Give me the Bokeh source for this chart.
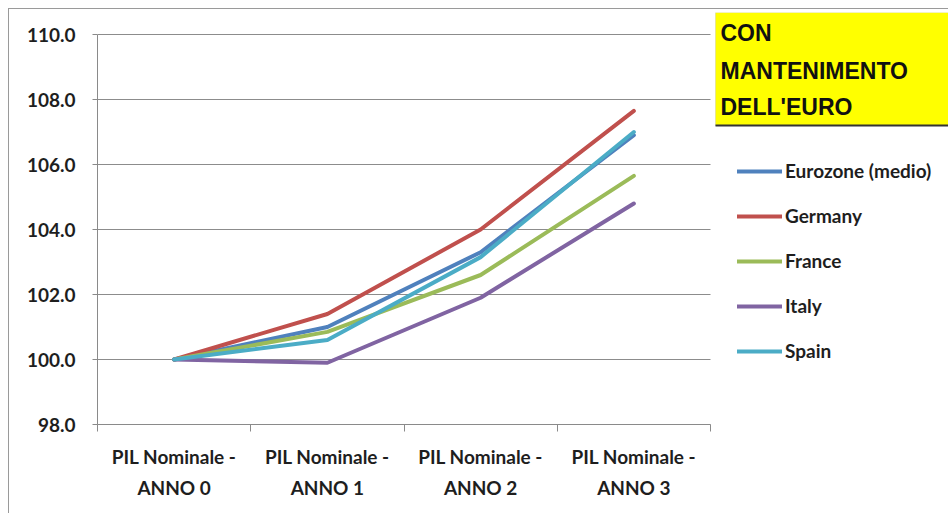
from bokeh.plotting import figure
from bokeh.models import (Range1d, FixedTicker, Legend, LegendItem, Label, BoxAnnotation)
from bokeh.embed import file_html
from bokeh.resources import INLINE

categories = ["ANNO 0", "ANNO 1", "ANNO 2", "ANNO 3"]
tick_labels = ["PIL Nominale -\nANNO 0", "PIL Nominale -\nANNO 1",
               "PIL Nominale -\nANNO 2", "PIL Nominale -\nANNO 3"]
series_names = ["Eurozone (medio)", "Germany", "France", "Italy", "Spain"]
eurozone = [100.0, 101.0, 103.3, 106.9]
germany = [100.0, 101.4, 104.0, 107.65]
france = [100.0, 100.85, 102.6, 105.65]
italy = [100.0, 99.9, 101.9, 104.8]
spain = [100.0, 100.6, 103.15, 107.0]
series_values = [eurozone, germany, france, italy, spain]
colors = ["#4F81BD", "#C0504D", "#9BBB59", "#8064A2", "#4BACC6"]
y_min, y_max = 98, 110
y_ticks = [98, 100, 102, 104, 106, 108, 110]
title_lines = ["CON", "MANTENIMENTO", "DELL'EURO"]

n = len(categories)
xs = [i + 0.5 for i in range(n)]

# layout geometry (pixels)
plot_left, plot_right, plot_top, plot_bottom = 97, 710, 34, 424
frame_right, frame_top = 949, 12
x_end = n * (frame_right - plot_left) / (plot_right - plot_left)
y_end = y_min + (y_max - y_min) * (plot_bottom - frame_top) / (plot_bottom - plot_top)

p = figure(width=940, height=505, output_backend="svg", toolbar_location=None,
           x_range=Range1d(0, x_end), y_range=Range1d(y_min, y_end),
           min_border_left=88, min_border_right=0, min_border_top=3,
           min_border_bottom=90)
p.margin = (8, 0, 0, 8)
p.styles = {"border-top": "1px solid #9a9a9a", "border-left": "1px solid #9a9a9a"}
p.outline_line_color = None
p.background_fill_color = "white"
p.border_fill_color = "white"

axis_gray = "#8a8a8a"
label_color = "#1e1e1e"
# y axis
p.yaxis.bounds = (y_min, y_max)
p.yaxis.ticker = FixedTicker(ticks=y_ticks)
p.yaxis.major_label_overrides = {t: f"{t:.1f}" for t in y_ticks}
p.yaxis.axis_line_color = axis_gray
p.yaxis.major_tick_line_color = axis_gray
p.yaxis.major_tick_out = 5
p.yaxis.major_tick_in = 0
p.yaxis.minor_tick_line_color = None
p.yaxis.major_label_standoff = 17
p.yaxis.major_label_text_font = "Lato"
p.yaxis.major_label_text_font_style = "bold"
p.yaxis.major_label_text_font_size = "19px"
p.yaxis.major_label_text_color = label_color

# x axis
p.xaxis.bounds = (0, n)
p.xaxis.ticker = FixedTicker(ticks=xs, minor_ticks=list(range(n + 1)))
p.xaxis.major_label_overrides = {x: lab for x, lab in zip(xs, tick_labels)}
p.xaxis.axis_line_color = axis_gray
p.xaxis.major_tick_line_color = None
p.xaxis.major_tick_out = 0
p.xaxis.major_tick_in = 0
p.xaxis.minor_tick_line_color = axis_gray
p.xaxis.minor_tick_out = 7
p.xaxis.minor_tick_in = 0
p.xaxis.major_label_standoff = 13
p.xaxis.major_label_text_font = "Lato"
p.xaxis.major_label_text_font_style = "bold"
p.xaxis.major_label_text_font_size = "19px"
p.xaxis.major_label_text_line_height = 1.36
p.xaxis.major_label_text_color = label_color

p.xgrid.grid_line_color = None
p.ygrid.grid_line_color = None
# horizontal gridlines limited to the plot area
p.segment(x0=[0] * len(y_ticks), x1=[n] * len(y_ticks), y0=y_ticks, y1=y_ticks,
          line_color="#8c8c8c", line_width=1)

items = []
for name, vals, c in zip(series_names, series_values, colors):
    r = p.line(xs, vals, line_color=c, line_width=4, line_join="round", line_cap="round")
    items.append(LegendItem(label=name, renderers=[r]))

legend = Legend(items=items, location=(640, 62), orientation="vertical",
                glyph_width=45, glyph_height=20, label_height=20, spacing=22,
                label_standoff=3, padding=0, margin=0,
                border_line_color=None, background_fill_alpha=0,
                label_text_font="Lato", label_text_font_style="bold",
                label_text_font_size="19px", label_text_color=label_color)
p.add_layout(legend)

box = BoxAnnotation(left=618, right=870, top=412, bottom=299,
                    left_units="screen", right_units="screen",
                    top_units="screen", bottom_units="screen",
                    fill_color="#FFFF00", fill_alpha=1.0,
                    line_color="#b0b0b0", line_width=1)
p.add_layout(box)
box2 = BoxAnnotation(left=618, right=870, top=300, bottom=298,
                     left_units="screen", right_units="screen",
                     top_units="screen", bottom_units="screen",
                     fill_color="#333333", fill_alpha=1.0, line_color=None)
p.add_layout(box2)

title_y = [392, 354, 318]
for t, ty in zip(title_lines, title_y):
    p.add_layout(Label(x=623, y=ty, x_units="screen", y_units="screen",
                       text=t, text_font="Liberation Sans", text_font_style="bold",
                       text_font_size="23px", text_color="#111111",
                       text_baseline="alphabetic"))

open("out.html", "w").write(file_html(p, INLINE))
